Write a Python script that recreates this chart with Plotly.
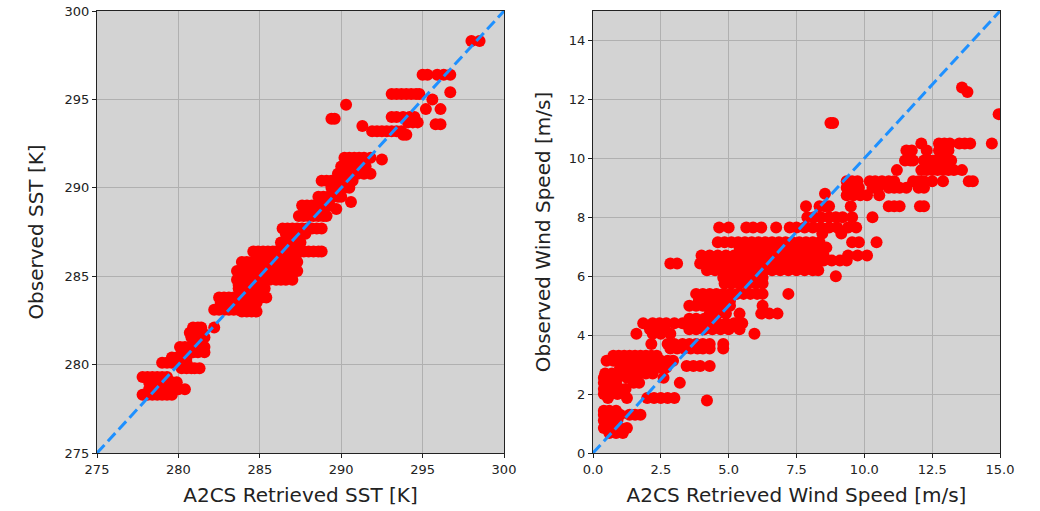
import plotly.graph_objects as go

# ---------------- data ----------------
# Left panel: SST. Each observed level with the retrieved values that sit on it.
sst_observed_levels = [
    298.3, 296.4, 295.4, 295.3, 295.0, 294.7, 294.45, 294.0, 293.9, 293.7, 293.6,
    293.5, 293.2, 293.0, 291.7, 291.6, 291.2, 290.8, 290.4, 290.0, 289.5, 289.2,
    289.0, 288.8, 288.4, 287.7, 287.4, 286.9, 286.4, 286.1, 285.8, 285.3, 284.8,
    284.5, 284.3, 283.8, 283.5, 283.1, 283.0, 282.1, 281.8, 281.55, 281.0, 280.7,
    280.4, 280.1, 279.8, 279.3, 279.0, 278.6, 278.3,
]
sst_retrieved_rows = [
    [298.0, 298.5],
    [295.0, 295.3, 295.9, 296.3, 296.7],
    [296.7],
    [293.1, 293.4, 293.7, 294.0, 294.3, 294.6, 294.8],
    [295.6],
    [290.3],
    [295.2, 296.1],
    [293.1, 293.4, 293.8, 294.2, 294.5],
    [289.4, 289.6],
    [294.1, 294.4, 294.7],
    [295.8, 296.1],
    [291.3],
    [291.9, 292.2, 292.5, 292.8, 293.1, 293.4, 293.7],
    [293.8, 294.0],
    [290.2, 290.5, 290.8, 291.1, 291.4, 291.8],
    [292.5],
    [290.0, 290.3, 290.6, 290.9, 291.2, 291.5],
    [289.8, 290.1, 290.4, 290.7, 291.0, 291.4, 291.8],
    [288.8, 289.1, 289.4, 289.7, 290.0, 290.3, 290.7],
    [289.4, 289.8, 290.2, 290.5],
    [288.6, 288.9, 289.2, 289.5, 289.8, 290.0],
    [290.6],
    [287.6, 287.9, 288.2, 288.5, 288.8, 289.1, 289.3],
    [289.7],
    [287.4, 287.7, 288.0, 288.3, 288.6, 288.9, 289.1],
    [286.4, 286.7, 287.0, 287.3, 287.6, 287.9, 288.2, 288.5, 288.8],
    [286.6, 287.0, 287.4, 287.8],
    [286.3, 286.6, 286.9, 287.2, 287.5],
    [284.6, 284.9, 285.2, 285.5, 285.8, 286.0, 286.3, 286.6, 286.9, 287.2,
     287.7, 288.0, 288.3, 288.6, 288.8],
    [285.0, 285.5, 286.2, 286.5, 286.8, 287.2],
    [283.9, 284.2, 284.5, 284.8, 285.1, 285.4, 285.7, 286.0, 286.3, 286.6, 286.9, 287.3],
    [283.6, 283.9, 284.2, 284.5, 284.8, 285.1, 285.4, 285.7, 286.0, 286.3, 286.6,
     286.9, 287.3],
    [283.6, 283.9, 284.2, 284.5, 284.8, 285.1, 285.4, 285.6, 286.0, 286.3, 286.6, 287.0],
    [283.7, 284.0, 284.3, 284.6, 284.9, 285.2],
    [283.7, 284.0, 284.3, 284.6, 285.0, 285.3],
    [282.5, 282.8, 283.1, 283.4, 283.7, 284.0, 284.4, 284.8, 285.1, 285.4],
    [282.6, 282.9, 283.2, 283.5, 283.8, 284.1, 284.4, 284.8],
    [282.2, 282.5, 282.8, 283.1, 283.4, 283.7, 284.0, 284.2],
    [283.9, 284.2, 284.5, 284.8],
    [280.9, 281.2, 281.4, 282.2],
    [280.7, 281.0, 281.3, 281.5],
    [280.8, 281.1, 281.4, 281.6],
    [280.1, 280.4, 280.7, 281.0, 281.3, 281.6],
    [280.6, 280.9, 281.2, 281.6],
    [279.6, 279.9, 280.2, 280.5],
    [279.0, 279.3, 279.6, 279.9, 280.2, 280.5],
    [280.2, 280.5, 280.8, 281.0, 281.3],
    [277.8, 278.1, 278.4, 278.7, 279.0, 279.3],
    [278.2, 278.5, 278.8, 279.1, 279.4, 279.6, 279.9],
    [278.2, 278.5, 278.8, 279.1, 279.4, 279.7, 280.0, 280.4],
    [277.8, 278.1, 278.4, 278.7, 279.0, 279.3, 279.6],
]

# Right panel: wind speed. Each observed level with the retrieved values on it.
wind_observed_levels = [
    12.4, 12.25, 11.5, 11.2, 10.5, 10.27, 9.93, 9.6, 9.22, 9.0, 8.8, 8.75, 8.37,
    8.0, 7.65, 7.45, 7.15, 6.97, 6.7, 6.53, 6.43, 6.2, 6.0, 5.95, 5.75, 5.4,
    5.17, 5.0, 4.73, 4.56, 4.4, 4.2, 4.05, 3.7, 3.55, 3.3, 3.13, 2.95, 2.9,
    2.7, 2.55, 2.38, 2.17, 2.0, 1.87, 1.78, 1.43, 1.3, 1.1, 0.85, 0.68,
]
wind_retrieved_rows = [
    [13.6],
    [13.8],
    [14.95],
    [8.75, 8.85],
    [12.1, 12.75, 12.95, 13.15, 13.5, 13.7, 13.9, 14.7],
    [11.55, 11.75, 12.3, 12.75, 12.95, 13.1],
    [11.5, 11.7, 11.8, 12.2, 12.4, 12.6, 12.8, 13.0, 13.2],
    [11.2, 12.1, 12.3, 12.5, 12.7, 12.9, 13.1, 13.3, 13.6],
    [9.35, 9.55, 9.75, 10.2, 10.4, 10.65, 10.9, 11.1, 11.8, 12.0, 12.2, 12.5, 12.9,
     13.85, 14.0],
    [9.35, 9.55, 9.8, 10.3, 10.5, 10.9, 11.1, 11.3, 11.55, 12.0, 12.2],
    [8.55],
    [9.35, 9.6, 9.85, 10.1, 10.55],
    [7.85, 8.35, 8.55, 8.7, 9.5, 10.9, 11.1, 11.3, 12.05, 12.2],
    [7.9, 8.15, 8.4, 8.7, 8.95, 9.2, 9.55, 10.3],
    [4.65, 5.0, 5.65, 5.9, 6.2, 6.75, 7.25, 7.5, 7.8, 8.1, 8.4, 8.7, 9.0, 9.4, 9.7],
    [8.45, 9.15],
    [4.6, 4.85, 5.1, 5.35, 5.6, 5.85, 6.1, 6.35, 6.6, 6.85, 7.1, 7.35, 7.6, 7.85,
     8.1, 8.35, 9.55, 9.8, 10.45],
    [5.4, 5.7, 6.0, 6.3, 6.6, 6.9, 7.2, 7.5, 7.8, 8.1, 8.4, 8.6],
    [4.0, 4.3, 4.6, 4.9, 5.2, 5.5, 5.8, 6.1, 6.4, 6.7, 7.0, 7.3, 7.6, 7.9, 8.2, 8.5,
     9.4, 9.75, 10.1],
    [7.6, 7.9, 8.2, 8.5, 8.8, 9.1, 9.35],
    [2.85, 3.1, 3.95, 4.2, 4.5, 4.8, 5.1, 5.4, 5.7, 6.0, 6.3, 6.6, 6.9, 7.2, 7.5,
     7.8, 8.1, 8.25],
    [4.2, 4.5, 4.8, 5.1, 5.4, 5.7, 6.0, 6.3, 6.6, 6.9, 7.2, 7.5, 7.8, 8.1, 8.3],
    [8.95],
    [4.8, 5.0, 5.3, 5.6, 5.9, 6.25],
    [4.85, 5.1, 5.4, 5.7, 6.0, 6.25],
    [3.8, 4.05, 4.3, 4.55, 4.8, 5.05, 5.3, 5.55, 5.8, 6.05, 6.25, 7.2],
    [3.9, 4.2, 4.5, 4.8, 5.05],
    [3.55, 3.8, 4.05, 4.3, 4.55, 4.8, 5.05, 6.25],
    [4.3, 4.6, 4.9, 5.4, 6.2, 6.5, 6.8],
    [3.55, 3.8, 4.1, 4.4],
    [1.85, 2.2, 2.45, 2.7, 3.0, 3.3, 3.55, 3.8, 4.05, 4.3, 4.6, 4.9, 5.2, 5.5],
    [2.1, 2.3, 2.6, 3.55, 3.8, 4.1, 4.4, 4.7, 5.0, 5.4],
    [1.6, 2.2, 2.5, 2.85, 5.95],
    [2.15, 2.75, 3.0, 3.3, 3.55, 3.8, 4.05, 4.3, 4.8],
    [2.85, 3.1, 3.35, 3.6, 3.85, 4.05, 4.3, 4.8],
    [0.75, 0.95, 1.15, 1.35, 1.55, 1.75, 1.95, 2.15, 2.35],
    [0.5, 0.75, 1.0, 1.25, 1.5, 1.75, 2.0, 2.25, 2.5, 2.75, 2.95],
    [3.45, 3.7, 3.95, 4.3],
    [1.0, 1.25, 1.5, 1.75, 2.0, 2.25, 2.5, 2.7],
    [0.45, 0.7, 0.95, 1.2, 1.45, 1.7, 1.95, 2.2],
    [0.4, 0.65, 0.9, 1.25, 1.6, 2.6],
    [0.4, 0.65, 0.85, 1.5, 1.7, 3.2],
    [0.4, 0.6, 0.8, 1.0, 1.2],
    [0.4, 0.65, 0.9],
    [0.55, 1.25, 2.0, 2.25, 2.5, 2.75, 3.0],
    [4.2],
    [0.4, 0.6, 0.85],
    [0.4, 0.6, 0.8, 1.0, 1.35, 1.55, 1.75],
    [0.4, 0.6, 0.9],
    [0.4, 0.6, 0.8, 1.0, 1.25],
    [0.6, 0.85, 1.1],
]

sst_range = [275, 300]
wind_range = [0, 15]
sst_ticks = [275, 280, 285, 290, 295, 300]
wind_xticks = [0.0, 2.5, 5.0, 7.5, 10.0, 12.5, 15.0]
wind_yticks = [0, 2, 4, 6, 8, 10, 12, 14]

# ---------------- flatten ----------------
sst_x, sst_y = [], []
for lvl, row in zip(sst_observed_levels, sst_retrieved_rows):
    sst_x += row
    sst_y += [lvl] * len(row)
wind_x, wind_y = [], []
for lvl, row in zip(wind_observed_levels, wind_retrieved_rows):
    wind_x += row
    wind_y += [lvl] * len(row)

FONT = "DejaVu Sans"
W, H = 1040, 511
fig = go.Figure()

marker = dict(color="red", size=12, line=dict(width=0))
dash_line = dict(color="#1e90ff", width=3, dash="11px,5px")
fig.add_trace(go.Scatter(x=sst_x, y=sst_y, mode="markers", marker=marker,
                         xaxis="x", yaxis="y", showlegend=False))
fig.add_trace(go.Scatter(x=sst_range, y=sst_range, mode="lines", line=dash_line,
                         xaxis="x", yaxis="y", showlegend=False))
fig.add_trace(go.Scatter(x=wind_x, y=wind_y, mode="markers", marker=marker,
                         xaxis="x2", yaxis="y2", showlegend=False))
fig.add_trace(go.Scatter(x=wind_range, y=wind_range, mode="lines", line=dash_line,
                         xaxis="x2", yaxis="y2", showlegend=False))

axis_common = dict(
    showgrid=True, gridcolor="#b0b0b0", gridwidth=1,
    showline=True, linecolor="#222", linewidth=1, mirror=True,
    ticks="outside", ticklen=4, tickcolor="#222",
    tickfont=dict(family=FONT, size=13, color="#222"),
    zeroline=False, automargin=False,
)
ydom = [58 / H, 500 / H]
title_font = dict(family=FONT, size=20, color="#222")

fig.update_layout(
    width=W, height=H,
    margin=dict(l=0, r=0, t=0, b=0),
    paper_bgcolor="white",
    plot_bgcolor="#d3d3d3",
    font=dict(family=FONT, color="#222"),
    xaxis=dict(axis_common, domain=[97 / W, 504 / W], range=sst_range,
               tickvals=sst_ticks, anchor="y",
               title=dict(text="A2CS Retrieved SST [K]", font=title_font, standoff=12)),
    yaxis=dict(axis_common, domain=ydom, range=sst_range, tickvals=sst_ticks, anchor="x",
               title=dict(text="Observed SST [K]", font=title_font, standoff=15)),
    xaxis2=dict(axis_common, domain=[593 / W, 1000 / W], range=wind_range,
                tickvals=wind_xticks, tickformat=".1f", anchor="y2",
                title=dict(text="A2CS Retrieved Wind Speed [m/s]", font=title_font,
                           standoff=12)),
    yaxis2=dict(axis_common, domain=ydom, range=wind_range, tickvals=wind_yticks,
                anchor="x2",
                title=dict(text="Observed Wind Speed [m/s]", font=title_font, standoff=12)),
)

fig.write_html("out.html")
